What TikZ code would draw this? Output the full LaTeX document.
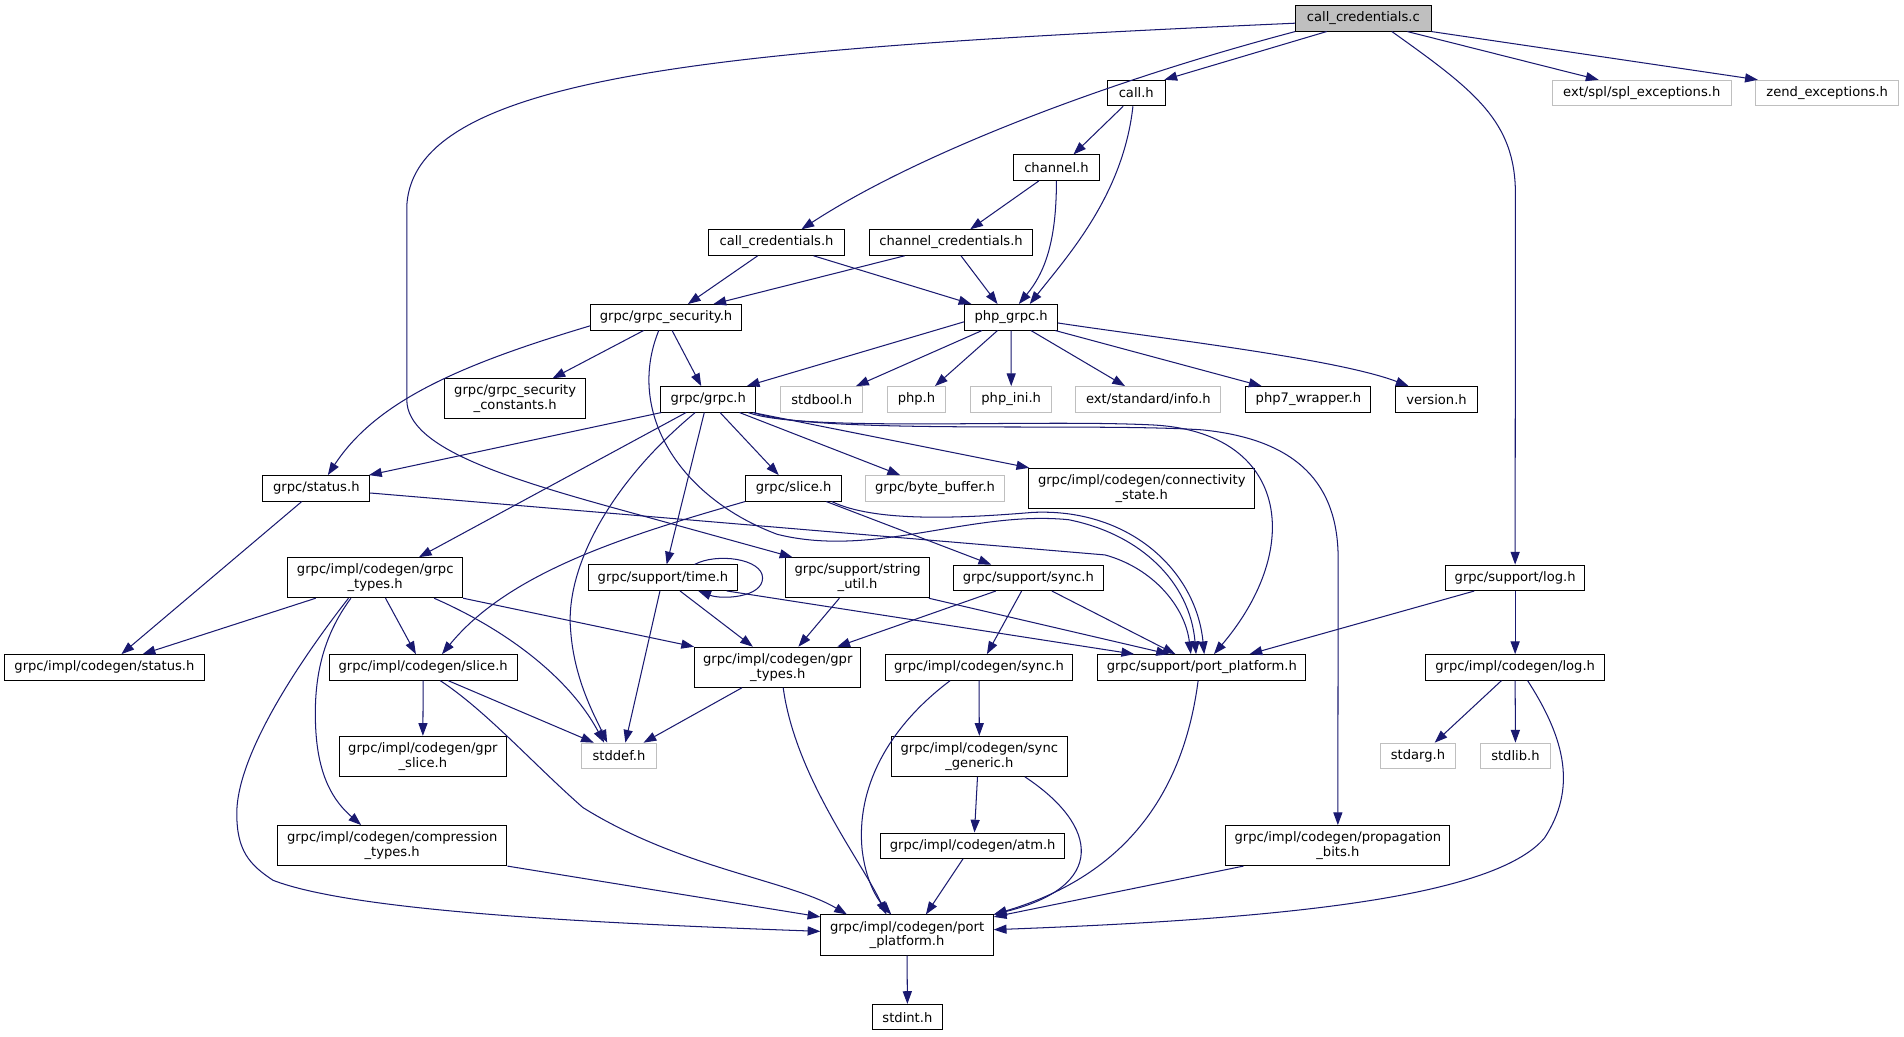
\documentclass[tikz,border=0pt]{standalone}
\usepackage{fontspec}
\setmainfont{DejaVu Sans}
\usetikzlibrary{arrows.meta}
\definecolor{edgeblue}{HTML}{191970}
\definecolor{extgrey}{HTML}{BFBFBF}
\tikzset{
  nd/.style={draw=black, line width=0.8pt, fill=white, inner sep=0pt, align=center, font=\fontsize{10.8}{12.2}\selectfont},
  extnd/.style={nd, draw=extgrey},
  rootnd/.style={nd, fill=extgrey},
  sl/.style={minimum height=21pt},
  dl/.style={minimum height=33pt},
  wd/.style={minimum width=#1},
  edg/.style={draw=edgeblue, line width=0.85pt, -{Triangle[length=10.5pt,width=7.5pt]}},
}
\begin{document}
\begin{tikzpicture}[x=1pt,y=-1pt]
\useasboundingbox[fill=white] (0,0) rectangle (1568,853.2);
% nodes
\node[rootnd,sl,wd=111.5pt] (root) at (1122.75,15.1) {call\_credentials.c};
\node[nd,sl,wd=47.5pt] (callh) at (935.75,76.6) {call.h};
\node[extnd,sl,wd=147pt] (splexc) at (1352,76.6) {ext/spl/spl\_exceptions.h};
\node[extnd,sl,wd=117.5pt] (zendexc) at (1504.75,76.6) {zend\_exceptions.h};
\node[nd,sl,wd=71pt] (channelh) at (870,138.1) {channel.h};
\node[nd,sl,wd=112pt] (callcredh) at (639.5,199.75) {call\_credentials.h};
\node[nd,sl,wd=134.5pt] (chancredh) at (783.25,199.75) {channel\_credentials.h};
\node[nd,sl,wd=124pt] (grpcsec) at (548.5,261.3) {grpc/grpc\_security.h};
\node[nd,sl,wd=76.6pt] (phpgrpc) at (832.7,261.3) {php\_grpc.h};
\node[nd,dl,wd=116.5pt] (secconst) at (424.25,328.5) {grpc/grpc\_security\\\_constants.h};
\node[nd,sl,wd=78.5pt] (grpch) at (583.25,328.85) {grpc/grpc.h};
\node[extnd,sl,wd=67.5pt] (stdbool) at (676.75,328.85) {stdbool.h};
\node[extnd,sl,wd=48.5pt] (phph) at (754.75,328.85) {php.h};
\node[extnd,sl,wd=66.5pt] (phpini) at (832.75,328.85) {php\_ini.h};
\node[extnd,sl,wd=119.5pt] (info) at (945.75,328.85) {ext/standard/info.h};
\node[nd,sl,wd=103pt] (php7) at (1077.5,328.85) {php7\_wrapper.h};
\node[nd,sl,wd=68pt] (version) at (1183,328.85) {version.h};
\node[nd,sl,wd=88pt] (status) at (260.5,402.15) {grpc/status.h};
\node[nd,sl,wd=79pt] (slice) at (653.5,402.15) {grpc/slice.h};
\node[extnd,sl,wd=114.5pt] (bytebuf) at (770,402.15) {grpc/byte\_buffer.h};
\node[nd,dl,wd=186.5pt] (connect) at (940.25,402.15) {grpc/impl/codegen/connectivity\\\_state.h};
\node[nd,dl,wd=144pt] (grpctypes) at (309,475.75) {grpc/impl/codegen/grpc\\\_types.h};
\node[nd,sl,wd=123pt] (timeh) at (546,475.75) {grpc/support/time.h};
\node[nd,dl,wd=118.5pt] (strutil) at (706.25,475.75) {grpc/support/string\\\_util.h};
\node[nd,sl,wd=123.2pt] (synch) at (846.8,475.85) {grpc/support/sync.h};
\node[nd,sl,wd=114.5pt] (logh) at (1247.75,475.85) {grpc/support/log.h};
\node[nd,sl,wd=164pt] (cstatus) at (86,549.6) {grpc/impl/codegen/status.h};
\node[nd,sl,wd=155pt] (cslice) at (348.5,549.6) {grpc/impl/codegen/slice.h};
\node[nd,dl,wd=137pt] (gprtypes) at (640.5,549.5) {grpc/impl/codegen/gpr\\\_types.h};
\node[nd,sl,wd=154.5pt] (csync) at (806.25,549.6) {grpc/impl/codegen/sync.h};
\node[nd,sl,wd=171pt] (pport) at (989.7,549.6) {grpc/support/port\_platform.h};
\node[nd,sl,wd=147.5pt] (clog) at (1247.75,549.6) {grpc/impl/codegen/log.h};
\node[nd,dl,wd=137.5pt] (gprslice) at (348.25,622.85) {grpc/impl/codegen/gpr\\\_slice.h};
\node[extnd,sl,wd=61.5pt] (stddef) at (509.75,622.5) {stddef.h};
\node[nd,dl,wd=145pt] (syncgen) at (806.5,622.85) {grpc/impl/codegen/sync\\\_generic.h};
\node[extnd,sl,wd=61.5pt] (stdarg) at (1167.75,622.5) {stdarg.h};
\node[extnd,sl,wd=58pt] (stdlib) at (1248,622.5) {stdlib.h};
\node[nd,dl,wd=189pt] (comptypes) at (323,696.35) {grpc/impl/codegen/compression\\\_types.h};
\node[nd,sl,wd=152pt] (atm) at (801,696.5) {grpc/impl/codegen/atm.h};
\node[nd,dl,wd=184.5pt] (propbits) at (1101.75,696.35) {grpc/impl/codegen/propagation\\\_bits.h};
\node[nd,dl,wd=142pt] (cport) at (747,770) {grpc/impl/codegen/port\\\_platform.h};
\node[nd,sl,wd=57.5pt] (stdint) at (747.25,837.7) {stdint.h};
% edges from call_credentials.c
\draw[edg] ([xshift=-30.25pt]root.south) -- ([xshift=-1pt]callh.north east);
\draw[edg] (root.south west) .. controls (900,70) and (750,130) .. ([xshift=20.5pt]callcredh.north);
\draw[edg] ([yshift=-4pt]root.west) .. controls (600,40) and (340,60) .. (335,170) -- (335,329) .. controls (335,370) and (420,395) .. (530,425) -- ([xshift=6pt]strutil.north west);
\draw[edg] ([xshift=36.25pt]root.south) -- ([xshift=-35.5pt]splexc.north);
\draw[edg] (root.south east) -- ([xshift=2pt]zendexc.north west);
\draw[edg] ([xshift=23.5pt]root.south) .. controls (1215,75) and (1248,100) .. (1248,160) -- (logh.north);
% call.h, channel.h
\draw[edg] ([xshift=-10.75pt]callh.south) -- ([xshift=14pt]channelh.north);
\draw[edg] ([xshift=-2.75pt]callh.south) .. controls (925,160) and (880,210) .. ([xshift=15.3pt]phpgrpc.north);
\draw[edg] ([xshift=-14.5pt]channelh.south) -- ([xshift=15.75pt]chancredh.north);
\draw[edg] (channelh.south) .. controls (870,200) and (860,225) .. ([xshift=6.3pt]phpgrpc.north);
% credentials
\draw[edg] ([xshift=-15.5pt]callcredh.south) -- ([xshift=18pt]grpcsec.north);
\draw[edg] ([xshift=30.5pt]callcredh.south) -- ([xshift=-32.7pt]phpgrpc.north);
\draw[edg] ([xshift=-38.25pt]chancredh.south) -- ([xshift=39pt]grpcsec.north);
\draw[edg] ([xshift=8.15pt]chancredh.south) -- ([xshift=-11.2pt]phpgrpc.north);
% grpc_security.h
\draw[edg] ([yshift=-7pt]grpcsec.west) .. controls (380,300) and (310,330) .. ([xshift=9.5pt]status.north);
\draw[edg] ([xshift=-18.5pt]grpcsec.south) -- ([xshift=30.75pt]secconst.north);
\draw[edg] ([xshift=5pt]grpcsec.south) -- ([xshift=-5.75pt]grpch.north);
\draw[edg] ([xshift=-6pt]grpcsec.south) .. controls (515,340) and (560,410) .. (640,440) .. controls (720,460) and (800,420) .. (880,428) .. controls (940,440) and (980,480) .. ([xshift=-4.7pt]pport.north);
% php_grpc.h
\draw[edg] ([yshift=-3.7pt]phpgrpc.west) -- ([xshift=31.75pt]grpch.north);
\draw[edg] ([xshift=-24pt]phpgrpc.south) -- ([xshift=28.25pt]stdbool.north);
\draw[edg] ([xshift=-11.2pt]phpgrpc.south) -- ([xshift=15.25pt]phph.north);
\draw[edg] (phpgrpc.south) -- (phpini.north);
\draw[edg] ([xshift=16.3pt]phpgrpc.south) -- ([xshift=-19.25pt]info.north);
\draw[edg] ([xshift=36.3pt]phpgrpc.south) -- ([xshift=-38.5pt]php7.north);
\draw[edg] ([yshift=-4.7pt]phpgrpc.east) .. controls (950,278) and (1100,295) .. ([xshift=-23pt]version.north);
% grpc/grpc.h
\draw[edg] ([xshift=1pt]grpch.south west) -- ([xshift=-1pt]status.north east);
\draw[edg] ([xshift=-18.25pt]grpch.south) -- ([xshift=36pt]grpctypes.north);
\draw[edg] ([xshift=-10.75pt]grpch.south) .. controls (500,400) and (465,470) .. (470,520) .. controls (473,560) and (490,590) .. ([xshift=-9.75pt]stddef.north);
\draw[edg] ([xshift=-3.25pt]grpch.south) -- ([xshift=3pt]timeh.north);
\draw[edg] ([xshift=9.75pt]grpch.south) -- ([xshift=-12.2pt]slice.north);
\draw[edg] ([xshift=25.75pt]grpch.south) -- ([xshift=-28.7pt]bytebuf.north);
\draw[edg] ([xshift=36.75pt]grpch.south) -- ([xshift=1pt]connect.north west);
\draw[edg] ([xshift=33pt]grpch.south) .. controls (660,356) and (850,345) .. (950,350) .. controls (1060,356) and (1075,450) .. ([xshift=10pt]pport.north);
\draw[edg] ([xshift=37.5pt]grpch.south) .. controls (670,358) and (900,348) .. (990,354) .. controls (1070,362) and (1102,400) .. (1102,460) -- (propbits.north);
% grpc/status.h
\draw[edg] ([xshift=-12pt]status.south) -- ([xshift=14pt]cstatus.north);
\draw[edg] ([yshift=-3.85pt]status.east) -- (910,457) .. controls (950,468) and (976,500) .. ([xshift=-9pt]pport.north);
% grpc/slice.h
\draw[edg] (slice.south west) .. controls (520,440) and (420,470) .. ([xshift=15.5pt]cslice.north);
\draw[edg] ([xshift=27pt]slice.south) -- ([xshift=-30.5pt]synch.north);
\draw[edg] ([xshift=31.5pt]slice.south) .. controls (720,430) and (790,427) .. (850,422) .. controls (930,418) and (985,470) .. ([xshift=2pt]pport.north);
% grpc_types.h
\draw[edg] ([xshift=-49pt]grpctypes.south) -- ([xshift=31.5pt]cstatus.north);
\draw[edg] ([xshift=8.5pt]grpctypes.south) -- ([xshift=-6pt]cslice.north);
\draw[edg] ([xshift=48.5pt]grpctypes.south) .. controls (420,520) and (470,560) .. ([xshift=-12.25pt]stddef.north);
\draw[edg] (grpctypes.south east) -- (gprtypes.north west);
\draw[edg] ([xshift=-20pt]grpctypes.south) .. controls (265,525) and (258,560) .. (260,600) .. controls (262,640) and (275,660) .. ([xshift=-25.6pt]comptypes.north);
\draw[edg] ([xshift=-22pt]grpctypes.south) .. controls (250,540) and (195,620) .. (195,670) .. controls (195,700) and (205,712) .. (225,725) .. controls (290,750) and (480,760) .. ([yshift=3pt]cport.west);
% time.h
\draw[edg] ([xshift=26pt]timeh.north) .. controls (590,455) and (628,460) .. (628,476) .. controls (628,492) and (595,494) .. ([xshift=29pt]timeh.south);
\draw[edg] ([xshift=-2.5pt]timeh.south) -- ([xshift=5.25pt]stddef.north);
\draw[edg] ([xshift=14pt]timeh.south) -- ([xshift=-20.5pt]gprtypes.north);
\draw[edg] ([xshift=52.4pt]timeh.south) -- ([xshift=-55.7pt]pport.north);
% string_util.h
\draw[edg] ([xshift=-15pt]strutil.south) -- ([xshift=17pt]gprtypes.north);
\draw[edg] ([xshift=-1pt]strutil.south east) -- ([xshift=-27pt]pport.north);
% sync.h
\draw[edg] ([xshift=-26.8pt]synch.south) -- ([xshift=49pt]gprtypes.north);
\draw[edg] ([xshift=-5.5pt]synch.south) -- ([xshift=6.5pt]csync.north);
\draw[edg] ([xshift=19.5pt]synch.south) -- ([xshift=-21.7pt]pport.north);
% log.h
\draw[edg] ([xshift=-33.75pt]logh.south) -- ([xshift=39.3pt]pport.north);
\draw[edg] (logh.south) -- (clog.north);
% codegen/slice.h
\draw[edg] (cslice.south) -- (gprslice.north);
\draw[edg] ([xshift=20.5pt]cslice.south) -- ([xshift=-20.75pt]stddef.north);
\draw[edg] ([xshift=14pt]cslice.south) .. controls (400,585) and (440,630) .. (480,665) .. controls (560,715) and (650,725) .. ([xshift=-49.5pt]cport.north);
% gpr_types.h
\draw[edg] ([xshift=-29.5pt]gprtypes.south) -- ([xshift=20.25pt]stddef.north);
\draw[edg] ([xshift=4.5pt]gprtypes.south) .. controls (655,640) and (710,710) .. ([xshift=-17pt]cport.north);
% codegen/sync.h
\draw[edg] (csync.south) -- (syncgen.north);
\draw[edg] ([xshift=-23.75pt]csync.south) .. controls (730,600) and (705,650) .. (710,700) .. controls (713,725) and (722,740) .. ([xshift=-13pt]cport.north);
% sync_generic, atm, port_platform, propagation
\draw[edg] ([xshift=-1.5pt]syncgen.south) -- ([xshift=1.5pt]atm.north);
\draw[edg] ([xshift=37.5pt]syncgen.south) .. controls (905,680) and (912,730) .. (cport.north east);
\draw[edg] ([xshift=-8pt]atm.south) -- ([xshift=15.5pt]cport.north);
\draw[edg] ([xshift=-3pt]pport.south) .. controls (975,650) and (930,720) .. (cport.north east);
\draw[edg] ([xshift=-77.75pt]propbits.south) -- ([yshift=-2pt]cport.north east);
% codegen/log.h
\draw[edg] ([xshift=-11.25pt]clog.south) -- ([xshift=13.75pt]stdarg.north);
\draw[edg] (clog.south) -- (stdlib.north);
\draw[edg] ([xshift=10.25pt]clog.south) .. controls (1290,610) and (1298,650) .. (1272,690) .. controls (1230,740) and (1050,757) .. ([yshift=4.4pt]cport.east);
% compression, port
\draw[edg] (comptypes.south east) -- ([yshift=-2pt]cport.north west);
\draw[edg] (cport.south) -- (stdint.north);
\end{tikzpicture}
\end{document}
